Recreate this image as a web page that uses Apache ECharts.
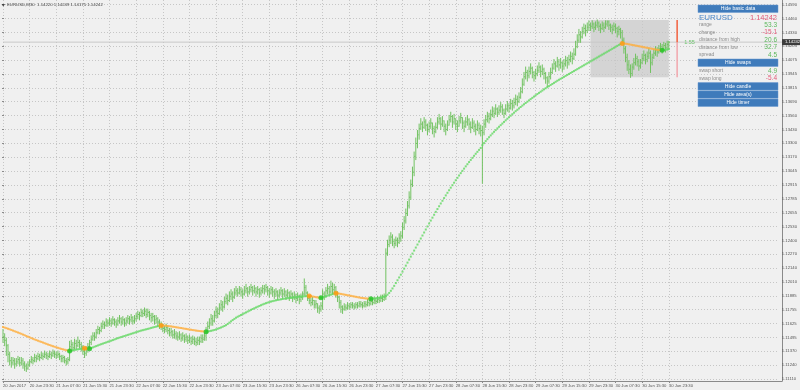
<!DOCTYPE html>
<html><head><meta charset="utf-8">
<script src="https://cdn.jsdelivr.net/npm/echarts@6/dist/echarts.min.js"></script>
<style>html,body{margin:0;padding:0;background:#f0f0f0}#c{width:800px;height:390px}</style>
</head><body><div id="c"></div>
<script>
// ---------- data ----------
const symbolTitle = 'EURUSD,M30';
const lastBarOHLC = [1.14220, 1.14249, 1.14175, 1.14242];
const timeLabels = ['20 Jun 2017','20 Jun 23:30','21 Jun 07:30','21 Jun 15:30','21 Jun 23:30','22 Jun 07:30','22 Jun 15:30','22 Jun 23:30','23 Jun 07:30','23 Jun 15:30','23 Jun 23:30','26 Jun 07:30','26 Jun 15:30','26 Jun 23:30','27 Jun 07:30','27 Jun 15:30','27 Jun 23:30','28 Jun 07:30','28 Jun 15:30','28 Jun 23:30','29 Jun 07:30','29 Jun 15:30','29 Jun 23:30','30 Jun 07:30','30 Jun 15:30','30 Jun 23:30'];
const priceTickMin = 1.11110, priceTickMax = 1.14590, priceTickSteps = 27;

const high = [
1.1157,1.1153,1.1149,1.1143,1.1136,1.1131,1.1131,1.1130,
1.1130,1.1132,1.1131,1.1131,1.1130,1.1127,1.1125,1.1127,
1.1129,1.1132,1.1131,1.1134,1.1133,1.1135,1.1134,1.1136,1.1135,1.1137,1.1136,1.1135,1.1137,1.1136,1.1138,1.1137,
1.1136,1.1137,1.1135,1.1133,1.1133,1.1132,1.1130,1.1131,
1.1146,1.1147,1.1145,1.1148,1.1147,1.1150,1.1147,1.1145,
1.1142,1.1139,1.1141,1.1144,
1.1147,1.1151,1.1154,1.1154,1.1157,1.1160,1.1159,1.1163,1.1165,1.1164,1.1167,1.1166,
1.1168,1.1167,1.1169,1.1167,1.1166,1.1168,1.1170,1.1168,1.1169,1.1167,1.1168,1.1170,1.1169,1.1171,1.1169,1.1170,
1.1172,1.1174,1.1173,1.1176,1.1175,1.1177,1.1176,1.1176,1.1174,1.1172,1.1172,1.1170,1.1170,1.1168,1.1166,1.1164,
1.1162,1.1160,1.1162,1.1160,1.1158,1.1158,1.1156,1.1157,1.1155,1.1154,1.1155,1.1153,1.1154,1.1152,1.1153,1.1151,1.1152,1.1150,1.1151,1.1150,1.1149,1.1150,1.1150,1.1152,1.1152,1.1154,
1.1159,1.1164,1.1167,1.1171,1.1170,1.1174,1.1178,1.1177,1.1181,1.1184,1.1183,1.1187,1.1190,1.1189,1.1192,1.1194,1.1192,1.1195,
1.1197,1.1195,1.1197,1.1196,1.1194,1.1197,1.1199,1.1196,1.1197,1.1199,1.1197,1.1198,1.1196,1.1197,1.1195,1.1196,1.1198,1.1198,1.1199,1.1197,
1.1195,1.1197,1.1196,1.1194,1.1195,1.1193,1.1194,1.1196,1.1194,1.1195,1.1193,1.1194,1.1192,1.1193,1.1191,1.1192,1.1190,1.1191,1.1189,1.1190,
1.1192,1.1204,1.1198,1.1192,1.1188,1.1186,1.1187,1.1184,1.1184,1.1181,1.1179,1.1182,
1.1194,1.1192,1.1196,1.1199,1.1197,1.1202,1.1200,1.1199,1.1197,1.1192,1.1188,1.1184,
1.1179,1.1181,1.1180,1.1182,1.1181,1.1182,1.1182,1.1181,1.1182,1.1182,1.1183,1.1183,1.1182,1.1183,1.1183,1.1185,1.1184,1.1186,1.1185,1.1187,1.1186,1.1188,1.1187,1.1189,1.1189,1.1190,
1.1232,1.1240,1.1244,1.1247,1.1245,1.1241,1.1243,1.1242,1.1246,1.1248,
1.1256,1.1262,1.1269,1.1276,1.1285,1.1296,1.1308,1.1322,1.1335,1.1342,1.1348,
1.1353,1.1350,1.1354,1.1352,1.1348,1.1350,1.1353,1.1349,1.1346,1.1349,1.1354,1.1357,1.1354,1.1355,1.1351,1.1348,1.1351,1.1356,1.1359,1.1356,
1.1357,1.1353,1.1351,1.1355,1.1358,1.1354,1.1351,1.1354,1.1356,1.1353,1.1350,1.1353,1.1351,1.1348,1.1351,1.1349,1.1347,
1.1346,
1.1352,1.1356,1.1359,1.1358,1.1361,1.1364,1.1363,1.1366,1.1363,1.1365,1.1368,1.1366,1.1362,1.1366,1.1369,1.1367,1.1371,1.1370,1.1372,1.1375,1.1374,
1.1377,1.1382,1.1390,1.1396,1.1401,1.1398,1.1401,1.1404,1.1401,1.1397,1.1399,1.1402,1.1405,1.1402,1.1403,1.1400,1.1396,1.1392,1.1396,1.1400,
1.1404,1.1408,1.1406,1.1410,1.1408,1.1409,1.1406,1.1408,1.1411,1.1410,1.1412,1.1415,1.1414,1.1418,
1.1425,1.1431,1.1436,1.1434,1.1438,1.1441,1.1440,1.1442,1.1444,
1.1442,1.1444,1.1442,1.1443,1.14448,1.1443,1.1441,1.1443,1.1442,1.1444,1.1444,1.1444,1.1441,1.1440,1.1442,1.1441,1.1438,1.1439,1.1437,
1.1435,1.1428,1.1420,1.1413,1.1407,1.1403,1.1404,1.1409,1.1413,
1.1411,1.1408,1.1408,1.1413,1.1416,1.1413,1.1415,1.1418,1.1416,1.1413,1.1417,
1.1420,1.1419,1.1421,1.1423,1.1422,1.1424,1.1423,1.1425,1.14249];

const low = [
1.1145,1.1142,1.1133,1.1127,1.1124,1.1122,1.1124,1.1121,
1.1123,1.1125,1.1123,1.1124,1.1121,1.1119,1.1118,1.1120,
1.1123,1.1126,1.1125,1.1127,1.1127,1.1129,1.1128,1.1130,1.1129,1.1131,1.1130,1.1129,1.1131,1.1130,1.1132,1.1131,
1.1130,1.1131,1.1129,1.1127,1.1127,1.1126,1.1124,1.1125,
1.1128,1.1138,1.1137,1.1139,1.1139,1.1141,1.1140,1.1137,
1.1134,1.1131,1.1133,1.1136,
1.1139,1.1143,1.1147,1.1147,1.1149,1.1153,1.1153,1.1155,1.1158,1.1158,1.1160,1.1160,
1.1161,1.1160,1.1162,1.1161,1.1159,1.1161,1.1163,1.1161,1.1162,1.1160,1.1161,1.1163,1.1162,1.1164,1.1162,1.1163,
1.1165,1.1167,1.1166,1.1169,1.1169,1.1170,1.1168,1.1169,1.1166,1.1164,1.1165,1.1162,1.1163,1.1160,1.1158,1.1157,
1.1155,1.1154,1.1155,1.1153,1.1151,1.1151,1.1149,1.1149,1.1148,1.1147,1.1148,1.1146,1.1147,1.1145,1.1146,1.1144,1.1145,1.1143,1.1144,1.1143,1.1142,1.1143,1.1143,1.1145,1.1145,1.1147,
1.1147,1.1154,1.1158,1.1161,1.1161,1.1164,1.1168,1.1168,1.1171,1.1175,1.1174,1.1177,1.1181,1.1180,1.1183,1.1185,1.1183,1.1186,
1.1189,1.1188,1.1190,1.1188,1.1186,1.1189,1.1191,1.1188,1.1190,1.1192,1.1189,1.1191,1.1188,1.1190,1.1187,1.1189,1.1191,1.1190,1.1192,1.1189,
1.1187,1.1190,1.1188,1.1186,1.1188,1.1185,1.1187,1.1189,1.1186,1.1188,1.1185,1.1187,1.1184,1.1186,1.1183,1.1185,1.1182,1.1184,1.1181,1.1183,
1.1185,1.1189,1.1189,1.1184,1.1181,1.1179,1.1180,1.1177,1.1177,1.1173,1.1172,1.1174,
1.1176,1.1185,1.1187,1.1190,1.1189,1.1191,1.1190,1.1191,1.1187,1.1183,1.1177,1.1173,
1.1172,1.1175,1.1175,1.1176,1.1176,1.1177,1.1177,1.1176,1.1177,1.1177,1.1178,1.1178,1.1177,1.1178,1.1178,1.1179,1.1179,1.1180,1.1180,1.1181,1.1181,1.1182,1.1182,1.1183,1.1183,1.1184,
1.1185,1.1226,1.1234,1.1237,1.1235,1.1233,1.1235,1.1234,1.1237,1.1239,
1.1242,1.1250,1.1256,1.1263,1.1270,1.1278,1.1290,1.1300,1.1315,1.1326,1.1334,
1.1343,1.1341,1.1344,1.1342,1.1338,1.1341,1.1344,1.1339,1.1336,1.1340,1.1344,1.1348,1.1343,1.1346,1.1341,1.1338,1.1342,1.1347,1.1350,1.1345,
1.1348,1.1343,1.1341,1.1346,1.1349,1.1344,1.1341,1.1345,1.1347,1.1343,1.1340,1.1344,1.1341,1.1338,1.1342,1.1339,1.1337,
1.1293,
1.1338,1.1345,1.1350,1.1349,1.1352,1.1355,1.1354,1.1357,1.1355,1.1357,1.1359,1.1357,1.1354,1.1357,1.1360,1.1359,1.1362,1.1361,1.1363,1.1366,1.1365,
1.1368,1.1372,1.1377,1.1384,1.1390,1.1388,1.1391,1.1395,1.1391,1.1388,1.1390,1.1393,1.1396,1.1392,1.1394,1.1390,1.1386,1.1383,1.1386,1.1390,
1.1395,1.1399,1.1397,1.1401,1.1398,1.1400,1.1397,1.1399,1.1402,1.1400,1.1403,1.1406,1.1404,1.1408,
1.1412,1.1419,1.1424,1.1424,1.1428,1.1432,1.1430,1.1433,1.1435,
1.1435,1.1437,1.1434,1.1436,1.1438,1.1435,1.1433,1.1436,1.1434,1.1437,1.1439,1.1436,1.1434,1.1432,1.1435,1.1433,1.1429,1.1431,1.1428,
1.1424,1.1414,1.1406,1.1398,1.1395,1.13915,1.1393,1.1399,1.1403,
1.1402,1.1398,1.1400,1.1404,1.1407,1.1404,1.1406,1.1409,1.1396,1.1403,1.1409,
1.1412,1.1411,1.1414,1.1416,1.1414,1.1417,1.1415,1.1417,1.14175];

const close = [
1.1150,1.1147,1.1142,1.1134,1.1128,1.1126,1.1128,1.1125,
1.1127,1.1129,1.1126,1.1128,1.1125,1.1123,1.1121,1.1124,
1.1127,1.1129,1.1128,1.1131,1.1130,1.1132,1.1131,1.1133,1.1132,1.1134,1.1133,1.1132,1.1134,1.1133,1.1135,1.1134,
1.1133,1.1134,1.1132,1.1130,1.1131,1.1128,1.1127,1.1129,
1.1141,1.1143,1.1140,1.1144,1.1142,1.1145,1.1143,1.1141,
1.1137,1.1135,1.1138,1.1141,
1.1145,1.1148,1.1151,1.1150,1.1154,1.1157,1.1156,1.1160,1.1162,1.1161,1.1164,1.1163,
1.1165,1.1163,1.1166,1.1164,1.1162,1.1165,1.1167,1.1164,1.1166,1.1163,1.1165,1.1167,1.1166,1.1168,1.1165,1.1167,
1.1169,1.1171,1.1170,1.1173,1.1172,1.1174,1.1171,1.1173,1.1170,1.1168,1.1169,1.1166,1.1167,1.1164,1.1162,1.1160,
1.1158,1.1157,1.1159,1.1156,1.1154,1.1155,1.1152,1.1153,1.1151,1.1150,1.1152,1.1149,1.1151,1.1148,1.1150,1.1147,1.1149,1.1146,1.1148,1.1146,1.1145,1.1147,1.1146,1.1149,1.1148,1.1151,
1.1156,1.1160,1.1163,1.1167,1.1165,1.1170,1.1174,1.1172,1.1177,1.1180,1.1178,1.1183,1.1186,1.1184,1.1188,1.1190,1.1187,1.1191,
1.1193,1.1191,1.1194,1.1192,1.1190,1.1193,1.1195,1.1192,1.1194,1.1196,1.1193,1.1195,1.1192,1.1194,1.1191,1.1193,1.1195,1.1194,1.1196,1.1193,
1.1191,1.1194,1.1192,1.1190,1.1192,1.1189,1.1191,1.1193,1.1190,1.1192,1.1189,1.1191,1.1188,1.1190,1.1187,1.1189,1.1186,1.1188,1.1185,1.1187,
1.1190,1.1196,1.1191,1.1186,1.1184,1.1182,1.1184,1.1180,1.1181,1.1177,1.1176,1.1179,
1.1190,1.1188,1.1193,1.1195,1.1192,1.1197,1.1194,1.1196,1.1191,1.1187,1.1182,1.1178,
1.1176,1.1178,1.1177,1.1179,1.1178,1.1180,1.1179,1.1178,1.1180,1.1179,1.1181,1.1180,1.1179,1.1181,1.1180,1.1182,1.1181,1.1183,1.1182,1.1184,1.1183,1.1185,1.1184,1.1186,1.1185,1.1187,
1.1228,1.1236,1.1240,1.1243,1.1239,1.1237,1.1240,1.1238,1.1242,1.1244,
1.1252,1.1258,1.1265,1.1272,1.1280,1.1292,1.1303,1.1318,1.1330,1.1338,1.1344,
1.1348,1.1345,1.1350,1.1347,1.1343,1.1346,1.1349,1.1344,1.1341,1.1345,1.1350,1.1353,1.1348,1.1351,1.1346,1.1343,1.1347,1.1352,1.1355,1.1350,
1.1353,1.1348,1.1346,1.1351,1.1354,1.1349,1.1346,1.1350,1.1352,1.1348,1.1345,1.1349,1.1346,1.1343,1.1347,1.1344,1.1342,
1.1340,
1.1348,1.1352,1.1355,1.1353,1.1357,1.1360,1.1358,1.1362,1.1359,1.1361,1.1364,1.1361,1.1358,1.1362,1.1365,1.1363,1.1367,1.1365,1.1368,1.1371,1.1369,
1.1373,1.1378,1.1385,1.1392,1.1396,1.1393,1.1397,1.1400,1.1396,1.1393,1.1395,1.1398,1.1401,1.1397,1.1399,1.1395,1.1391,1.1388,1.1392,1.1396,
1.1400,1.1404,1.1402,1.1406,1.1403,1.1405,1.1402,1.1404,1.1407,1.1405,1.1408,1.1411,1.1409,1.1413,
1.1420,1.1426,1.1431,1.1429,1.1434,1.1437,1.1435,1.1438,1.1440,
1.1439,1.1441,1.1438,1.1440,1.1442,1.1439,1.1437,1.1440,1.1438,1.1441,1.1443,1.1440,1.1438,1.1436,1.1439,1.1437,1.1434,1.1436,1.1433,
1.1426,1.1418,1.1410,1.1403,1.1399,1.1395,1.1401,1.1405,1.1409,
1.1406,1.1402,1.1405,1.1409,1.1412,1.1408,1.1411,1.1414,1.1405,1.1410,1.1414,
1.1417,1.1415,1.1418,1.1420,1.1418,1.1421,1.1419,1.1422,1.14242];

const maLine = [
1.11594,1.11588,1.11583,1.11577,1.11572,1.11566,1.11560,1.11554,1.11548,1.11542,
1.11536,1.11530,1.11523,1.11517,1.11510,1.11503,1.11497,1.11490,1.11484,1.11478,
1.11472,1.11466,1.11460,1.11455,1.11449,1.11443,1.11437,1.11431,1.11426,1.11420,
1.11415,1.11410,1.11405,1.11400,1.11395,1.11390,1.11386,1.11382,1.11378,1.11374,
1.11371,1.11374,1.11377,1.11380,1.11383,1.11386,1.11389,1.11392,1.11394,1.11396,
1.11394,1.11393,1.11392,
1.11398,1.11404,1.11410,1.11416,1.11422,1.11428,1.11434,1.11439,1.11445,1.11450,
1.11456,1.11461,1.11466,1.11472,1.11478,1.11484,1.11490,1.11495,1.11500,1.11505,
1.11510,1.11515,1.11520,1.11525,1.11530,1.11535,1.11540,1.11545,1.11550,1.11555,
1.11560,1.11564,1.11568,1.11572,1.11576,1.11580,1.11585,1.11589,1.11593,1.11597,
1.11601,1.11605,1.11608,
1.11607,1.11606,1.11605,1.11603,1.11601,1.11599,1.11596,1.11594,1.11591,1.11589,
1.11586,1.11584,1.11581,1.11578,1.11576,1.11573,1.11570,1.11568,1.11565,1.11563,
1.11560,1.11558,1.11556,1.11554,1.11553,1.11552,
1.11550,1.11552,1.11555,1.11558,1.11562,1.11566,1.11571,1.11577,1.11583,1.11589,
1.11596,1.11603,1.11611,1.11622,1.11634,1.11646,1.11658,1.11669,1.11680,1.11689,
1.11697,1.11705,1.11713,1.11721,1.11729,1.11737,1.11745,1.11753,1.11761,1.11768,
1.11775,1.11782,1.11789,1.11796,1.11803,1.11809,1.11815,1.11820,1.11825,1.11830,
1.11834,1.11838,1.11842,1.11845,1.11848,1.11851,1.11854,1.11857,1.11859,1.11861,
1.11863,1.11865,1.11867,1.11869,1.11871,1.11873,1.11875,1.11876,1.11878,1.11879,
1.11880,1.11881,1.11882,
1.11880,1.11877,1.11874,1.11871,1.11868,1.11866,1.11865,
1.11869,1.11874,1.11879,1.11884,1.11889,1.11894,1.11899,1.11904,1.11908,
1.11906,1.11904,1.11901,1.11898,1.11895,1.11892,1.11889,1.11886,1.11883,1.11880,
1.11877,1.11874,1.11871,1.11868,1.11865,1.11863,1.11861,1.11859,1.11858,1.11857,
1.11856,
1.11857,1.11858,1.11860,1.11862,1.11865,1.11868,1.11872,1.11876,1.11882,1.11894,
1.11910,1.11930,1.11952,1.11976,1.12002,1.12028,1.12054,1.12080,1.12108,1.12136,
1.12164,1.12192,1.12220,1.12248,1.12276,1.12304,1.12332,1.12360,1.12388,1.12416,
1.12444,1.12472,1.12500,1.12528,1.12556,1.12583,1.12610,1.12637,1.12664,1.12690,
1.12716,1.12742,1.12767,1.12792,1.12817,1.12841,1.12865,1.12889,1.12912,1.12935,
1.12958,1.12980,1.13002,1.13024,1.13045,1.13066,1.13087,1.13107,1.13127,1.13147,
1.13166,1.13185,1.13204,1.13222,1.13240,1.13258,
1.13284,1.13303,1.13322,1.13340,1.13358,1.13375,1.13392,1.13408,1.13424,1.13440,
1.13455,1.13470,1.13485,1.13500,1.13515,1.13530,1.13544,1.13558,1.13572,1.13586,
1.13600,1.13613,1.13626,1.13639,1.13652,1.13664,1.13676,1.13688,1.13700,1.13712,
1.13724,1.13736,1.13748,1.13759,1.13770,1.13781,1.13792,1.13803,1.13813,1.13823,
1.13833,1.13843,1.13853,1.13863,1.13873,1.13883,1.13892,1.13901,1.13910,1.13919,
1.13928,1.13937,1.13946,1.13955,1.13964,1.13973,1.13982,1.13991,1.14000,1.14009,
1.14018,1.14027,1.14036,1.14045,1.14054,1.14063,1.14072,1.14081,1.14090,1.14099,
1.14108,1.14117,1.14126,1.14135,1.14144,1.14153,1.14162,1.14171,1.14180,1.14189,
1.14198,1.14207,1.14216,1.14224,1.14230,
1.14229,1.14227,1.14225,1.14222,1.14219,1.14216,1.14213,1.14210,1.14207,1.14204,
1.14201,1.14198,1.14195,1.14192,1.14189,1.14186,1.14183,1.14180,1.14177,1.14174,
1.14171,1.14169,1.14167,1.14166,1.14168,1.14171,1.14174,1.14177];

const maTurnUp = [40, 52, 122, 191, 221, 396];   // green dots
const maTurnDown = [49, 95, 184, 200, 372];      // orange dots

const dayStartBar = 353, dayEndBar = 400;
const dayHigh = 1.14448, dayLow = 1.13915, bidPrice = 1.14242;
const rangeMarkerBar = 405;
const rangeRatioText = '1.55';

const panelButtons = ['Hide basic data', 'Hide swaps', 'Hide candle', 'Hide area(s)', 'Hide timer'];
const panelSymbol = 'EURUSD';
const panelRows = [
  ['range', '53.3', 'g'], ['change', '-15.1', 'r'], ['distance from high', '20.6', 'g'],
  ['distance from low', '32.7', 'g'], ['spread', '4.5', 'g']
];
const swapRows = [['swap short', '4.9', 'g'], ['swap long', '-5.4', 'r']];

// ---------- layout / style ----------
const FONT = '"Liberation Sans", Arial, sans-serif';
const N_SLOTS = 469;
const cats = Array.from({length: N_SLOTS}, (_, i) => String(i));
const LABEL_EVERY = 16;
const lastBar = close.length - 1;
const tickTopPx = 4.7, tickBotPx = 379, plotBotPx = 381;
const tickStep = (priceTickMax - priceTickMin) / priceTickSteps;
const unitPerPx = (priceTickMax - priceTickMin) / (tickBotPx - tickTopPx);
const dataMin = priceTickMin - (plotBotPx - tickBotPx) * unitPerPx;
const dataMax = priceTickMax + tickTopPx * unitPerPx;

const BAR_COLOR = '#72c262';
const MA_GREEN = '#62d862', MA_ORANGE = '#ffac38';
const DOT_GREEN = '#22c322', DOT_ORANGE = '#ff9a10';
const GRID_COLOR = '#c6c6c6';
const AXIS_COLOR = '#8a8a8a';
const TEXT_COLOR = '#555';

const turnAt = {};
maTurnUp.forEach(i => turnAt[i] = 'up');
maTurnDown.forEach(i => turnAt[i] = 'down');
const maColors = [];
let state = 'down';
for (let i = 0; i < maLine.length; i++) { if (turnAt[i]) state = turnAt[i]; maColors.push(state === 'up' ? MA_GREEN : MA_ORANGE); }

const isLabelIdx = (idx) => idx % LABEL_EVERY === 0 && idx <= lastBar;

const bars = close.map((c, i) => [i, high[i], low[i], c]);

const chart = echarts.init(document.getElementById('c'), null, {renderer: 'canvas'});

const option = {
  animation: false,
  backgroundColor: '#f0f0f0',
  textStyle: {fontFamily: FONT},
  grid: [
    {left: 2, right: 18, top: 0, bottom: 390 - plotBotPx},
    {left: 2, right: 18, top: tickTopPx, bottom: 390 - tickBotPx}
  ],
  xAxis: [
    {
      type: 'category', gridIndex: 0, data: cats, boundaryGap: false,
      axisLine: {show: true, lineStyle: {color: AXIS_COLOR, width: 1}},
      axisTick: {show: true, interval: (idx) => isLabelIdx(idx), length: 2, lineStyle: {color: AXIS_COLOR}},
      axisLabel: {show: true, interval: (idx) => isLabelIdx(idx), formatter: (v, idx) => timeLabels[Number(v) / LABEL_EVERY] || '',
        align: 'left', fontSize: 4.2, color: TEXT_COLOR, margin: 3, fontFamily: FONT, hideOverlap: false},
      splitLine: {show: true, interval: (idx) => isLabelIdx(idx), lineStyle: {color: GRID_COLOR, type: [1, 2], width: 1}}
    },
    {type: 'value', gridIndex: 1, show: false, min: 0, max: 1}
  ],
  yAxis: [
    {
      type: 'value', gridIndex: 0, position: 'right', min: dataMin, max: dataMax, scale: true,
      axisLine: {show: true, lineStyle: {color: AXIS_COLOR, width: 1}},
      axisTick: {show: false}, axisLabel: {show: false}, splitLine: {show: false}
    },
    {
      type: 'value', gridIndex: 1, position: 'right', min: priceTickMin, max: priceTickMax, interval: tickStep, scale: true,
      axisLine: {show: false},
      axisTick: {show: true, length: 2, lineStyle: {color: AXIS_COLOR}},
      axisLabel: {show: true, fontSize: 4.2, color: TEXT_COLOR, margin: 3, fontFamily: FONT, hideOverlap: false,
        formatter: (v) => (Math.round(v / 0.00005) * 0.00005).toFixed(5)},
      splitLine: {show: true, lineStyle: {color: GRID_COLOR, type: [1, 2], width: 1}}
    }
  ],
  series: [
    {
      name: 'day box', type: 'line', xAxisIndex: 0, yAxisIndex: 0, data: [], z: 1, silent: true,
      markArea: {silent: true, itemStyle: {color: 'rgba(200,200,200,0.7)'},
        data: [[{xAxis: dayStartBar, yAxis: dayHigh}, {xAxis: dayEndBar, yAxis: dayLow}]]}
    },
    {
      name: 'bid line', type: 'line', xAxisIndex: 0, yAxisIndex: 0, z: 2, silent: true,
      data: [[0, bidPrice], [N_SLOTS - 1, bidPrice]], symbol: 'none',
      lineStyle: {color: '#c8c8c8', width: 1, type: 'solid'}
    },
    {
      name: 'bars', type: 'custom', xAxisIndex: 0, yAxisIndex: 0, z: 3, silent: true,
      data: bars, encode: {x: 0, y: [1, 2, 3]},
      renderItem: (params, api) => {
        const i = api.value(0);
        const h = api.coord([i, api.value(1)]);
        const l = api.coord([i, api.value(2)]);
        const c = api.coord([i, api.value(3)]);
        return {type: 'group', children: [
          {type: 'line', shape: {x1: h[0], y1: h[1] - 0.5, x2: l[0], y2: l[1] + 0.5}, style: {stroke: BAR_COLOR, lineWidth: 1}},
          {type: 'line', shape: {x1: c[0], y1: c[1], x2: c[0] + 1.2, y2: c[1]}, style: {stroke: BAR_COLOR, lineWidth: 1}}
        ]};
      }
    },
    {
      name: 'MA', type: 'scatter', xAxisIndex: 0, yAxisIndex: 0, z: 4, silent: true,
      symbol: 'rect', symbolSize: [2, 2],
      data: maLine.map((v, i) => [i, v]),
      itemStyle: {color: (p) => maColors[p.dataIndex]}
    },
    {
      name: 'MA turns up', type: 'scatter', xAxisIndex: 0, yAxisIndex: 0, z: 5, silent: true,
      symbol: 'circle', symbolSize: 5,
      data: maTurnUp.map(i => [i, maLine[i]]), itemStyle: {color: DOT_GREEN}
    },
    {
      name: 'MA turns down', type: 'scatter', xAxisIndex: 0, yAxisIndex: 0, z: 5, silent: true,
      symbol: 'circle', symbolSize: 5,
      data: maTurnDown.map(i => [i, maLine[i]]), itemStyle: {color: DOT_ORANGE}
    },
    {
      name: 'day range', type: 'custom', xAxisIndex: 0, yAxisIndex: 0, z: 4, silent: true,
      data: [[rangeMarkerBar, dayHigh, bidPrice, dayLow]], encode: {x: 0, y: [1, 2, 3]},
      renderItem: (params, api) => {
        const x = api.value(0);
        const a = api.coord([x, api.value(1)]);
        const b = api.coord([x, api.value(2)]);
        const c = api.coord([x, api.value(3)]);
        return {type: 'group', children: [
          {type: 'line', shape: {x1: b[0], y1: b[1], x2: c[0], y2: c[1]}, style: {stroke: '#f2a6ad', lineWidth: 1.5}},
          {type: 'line', shape: {x1: a[0], y1: a[1], x2: b[0], y2: b[1]}, style: {stroke: '#f2603e', lineWidth: 1.5}},
          {type: 'text', x: a[0] + 7, y: b[1], style: {text: rangeRatioText, fill: '#6cc46c', font: '5.5px ' + FONT, textVerticalAlign: 'middle'}}
        ]};
      }
    }
  ]
};
chart.setOption(option);

// ---------- info panel, title and price tag ----------
const PX = 698, PW = 80, BTN_H = 7.5;
const BTN_FILL = '#3f7bbb', BTN_STROKE = '#6b9bd0';
const G = '#5cb85c', R = '#e25a78', LBL = '#8c8c8c';
const gfx = [];
const button = (text, y) => {
  gfx.push({type: 'rect', shape: {x: PX, y: y, width: PW, height: BTN_H}, style: {fill: BTN_FILL, stroke: BTN_STROKE, lineWidth: 0.5}, z: 20, silent: true});
  gfx.push({type: 'text', x: PX + PW / 2, y: y + BTN_H / 2 + 0.3, style: {text: text, fill: '#fff', font: '5px ' + FONT, textAlign: 'center', textVerticalAlign: 'middle'}, z: 21, silent: true});
};
const row = (label, val, col, y) => {
  gfx.push({type: 'text', x: PX + 1, y: y, style: {text: label, fill: LBL, font: '5px ' + FONT, textVerticalAlign: 'middle'}, z: 21, silent: true});
  gfx.push({type: 'text', x: PX + PW - 1, y: y, style: {text: val, fill: col === 'g' ? G : R, font: '6.5px ' + FONT, textAlign: 'right', textVerticalAlign: 'middle'}, z: 21, silent: true});
};
button(panelButtons[0], 5);
gfx.push({type: 'text', x: PX + 1, y: 17.5, style: {text: panelSymbol, fill: '#4b87c8', font: '8px ' + FONT, textVerticalAlign: 'middle'}, z: 21, silent: true});
gfx.push({type: 'text', x: PX + PW - 1, y: 17.5, style: {text: bidPrice.toFixed(5), fill: R, font: '7.5px ' + FONT, textAlign: 'right', textVerticalAlign: 'middle'}, z: 21, silent: true});
panelRows.forEach((r, k) => row(r[0], r[1], r[2], 25 + k * 7.5));
button(panelButtons[1], 59);
swapRows.forEach((r, k) => row(r[0], r[1], r[2], 70.8 + k * 7.6));
button(panelButtons[2], 82.6);
button(panelButtons[3], 90.8);
button(panelButtons[4], 99);

// title
gfx.push({type: 'polygon', shape: {points: [[1.5, 4], [5, 4], [3.25, 6.5]]}, style: {fill: '#444'}, silent: true, z: 21});
gfx.push({type: 'text', x: 7, y: 5.2, style: {text: symbolTitle + '  ' + lastBarOHLC.map(v => v.toFixed(5)).join(' '), fill: '#444', font: '4.3px ' + FONT, textVerticalAlign: 'middle'}, silent: true, z: 21});

// bid price tag on the right axis
const bidY = chart.convertToPixel({yAxisIndex: 0}, bidPrice);
gfx.push({type: 'rect', shape: {x: 782, y: bidY - 3, width: 18, height: 6}, style: {fill: '#3c3c3c'}, silent: true, z: 21});
gfx.push({type: 'text', x: 785, y: bidY + 0.2, style: {text: bidPrice.toFixed(5), fill: '#fff', font: '4.2px ' + FONT, textVerticalAlign: 'middle'}, silent: true, z: 22});

chart.setOption({graphic: {elements: gfx}});
</script>
</body></html>
